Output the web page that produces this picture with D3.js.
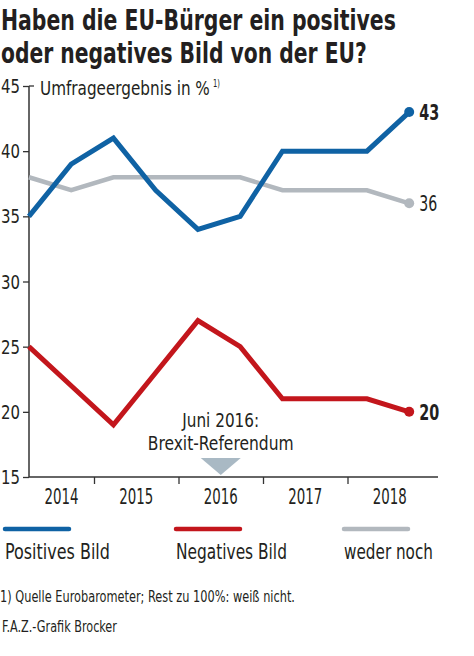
<!DOCTYPE html>
<html><head><meta charset="utf-8">
<script src="https://cdn.jsdelivr.net/npm/d3@7"></script>
<style>
html,body{margin:0;padding:0;background:#fff;}
svg{display:block;}
text{font-family:"DejaVu Sans Condensed","Liberation Sans Narrow",sans-serif;font-stretch:condensed;fill:#231f20;}
</style></head><body>
<script>
// Survey dates (spring / autumn Eurobarometer), as fractional years
const dates = [2014.23, 2014.73, 2015.23, 2015.73, 2016.23, 2016.73, 2017.23, 2017.73, 2018.23, 2018.73];
const positiv = [35, 39, 41, 37, 34, 35, 40, 40, 40, 43];
const negativ = [25, 22, 19, 23, 27, 25, 21, 21, 21, 20];
const weder   = [38, 37, 38, 38, 38, 38, 37, 37, 37, 36];
const years = [2014, 2015, 2016, 2017, 2018];
const yTicks = [15, 20, 25, 30, 35, 40, 45];
const seriesNames = ["Positives Bild", "Negatives Bild", "weder noch"];
const colors = ["#0f62a4", "#c3161c", "#b2b8be"];
const endLabels = ["43", "20", "36"];

const W = 474, H = 656;
const svg = d3.select("body").append("svg").attr("width", W).attr("height", H);

const axisX0 = 29, axisX1 = 438;
const x = d3.scaleLinear().domain([2014, 2019]).range([9.5, 432]);
const y = d3.scaleLinear().domain([15, 45]).range([477, 86]);

// Place a text with left edge at (lx, by) and squeeze it horizontally to width w
function txt(parent, str, lx, by, size, w, weight) {
  const t = parent.append("text").attr("x", 0).attr("y", 0).attr("font-size", size)
    .attr("font-weight", weight || "normal").text(str);
  const nat = t.node().getComputedTextLength();
  const s = w / nat;
  t.attr("transform", `translate(${lx},${by}) scale(${s},1)`);
  return t;
}

// Title
txt(svg, "Haben die EU-Bürger ein positives", 1, 30, 28, 395, "bold");
txt(svg, "oder negatives Bild von der EU?", 1, 63, 28, 366, "bold");

// Y axis
const yAxis = d3.axisLeft(y).tickValues(yTicks).tickSize(6).tickFormat("");
const gy = svg.append("g").attr("transform", `translate(${axisX0},0)`).call(yAxis);
gy.select(".domain").remove();
gy.selectAll(".tick line").attr("stroke", "#333").attr("stroke-width", 1.3);
yTicks.forEach(v => txt(svg, String(v), 1, y(v) + 7, 20, 19));
svg.append("line").attr("x1", axisX0).attr("x2", axisX0).attr("y1", y(45)).attr("y2", y(15))
  .attr("stroke", "#333").attr("stroke-width", 1.5);
svg.append("line").attr("x1", axisX0).attr("x2", axisX0 + 5).attr("y1", y(45)).attr("y2", y(45))
  .attr("stroke", "#333").attr("stroke-width", 1.3);

// Axis title
txt(svg, "Umfrageergebnis in %", 40, y(45) + 9, 20, 170);
txt(svg, "1)", 213, y(45) + 1, 10, 7);

// X axis
svg.append("line").attr("x1", axisX0).attr("x2", axisX1).attr("y1", y(15)).attr("y2", y(15))
  .attr("stroke", "#333").attr("stroke-width", 1.5);
const xAxis = d3.axisBottom(x).tickValues(years.slice(1)).tickSize(7).tickFormat("");
const gx = svg.append("g").attr("transform", `translate(0,${y(15)})`).call(xAxis);
gx.select(".domain").remove();
gx.selectAll(".tick line").attr("stroke", "#333").attr("stroke-width", 1.3);
years.forEach(d => {
  const cx = (Math.max(x(d), axisX0) + Math.min(x(d + 1), x(2019))) / 2;
  txt(svg, String(d), cx - 17, 504, 21, 34);
});

// Brexit annotation
const bx = x(2016.5);
txt(svg, "Juni 2016:", bx - 38.5, 427, 19.5, 77);
txt(svg, "Brexit-Referendum", bx - 73, 450, 19.5, 146);
svg.append("path").attr("d", `M${bx - 20},458 L${bx + 20},458 L${bx},475 Z`).attr("fill", "#a9b9c4");

// Lines
const seriesData = [positiv, negativ, weder];
const line = d3.line().x((d, i) => x(dates[i])).y(d => y(d));
const order = [2, 1, 0];
order.forEach(k => {
  svg.append("path").datum(seriesData[k]).attr("d", line)
    .attr("fill", "none").attr("stroke", colors[k])
    .attr("stroke-width", k === 2 ? 4.5 : 5).attr("stroke-linejoin", "miter");
  const last = seriesData[k].length - 1;
  svg.append("circle").attr("cx", x(dates[last])).attr("cy", y(seriesData[k][last]))
    .attr("r", 5).attr("fill", colors[k]);
  txt(svg, endLabels[k], x(dates[last]) + 10, y(seriesData[k][last]) + 8, 21,
    k === 2 ? 18 : 20, k === 2 ? "normal" : "bold");
});

// Legend
const legX = [3, 174, 342];
const legW = [105, 111, 89];
seriesNames.forEach((n, k) => {
  svg.append("line").attr("x1", legX[k] + 2).attr("x2", legX[k] + 66).attr("y1", 529).attr("y2", 529)
    .attr("stroke", colors[k]).attr("stroke-width", 4.5).attr("stroke-linecap", "round");
  txt(svg, n, legX[k] + 2, 559, 22, legW[k]);
});

// Footnotes
txt(svg, "1) Quelle Eurobarometer; Rest zu 100%: weiß nicht.", 0, 602, 15, 295);
txt(svg, "F.A.Z.-Grafik Brocker", 2, 632, 15, 115);
</script>
</body></html>
